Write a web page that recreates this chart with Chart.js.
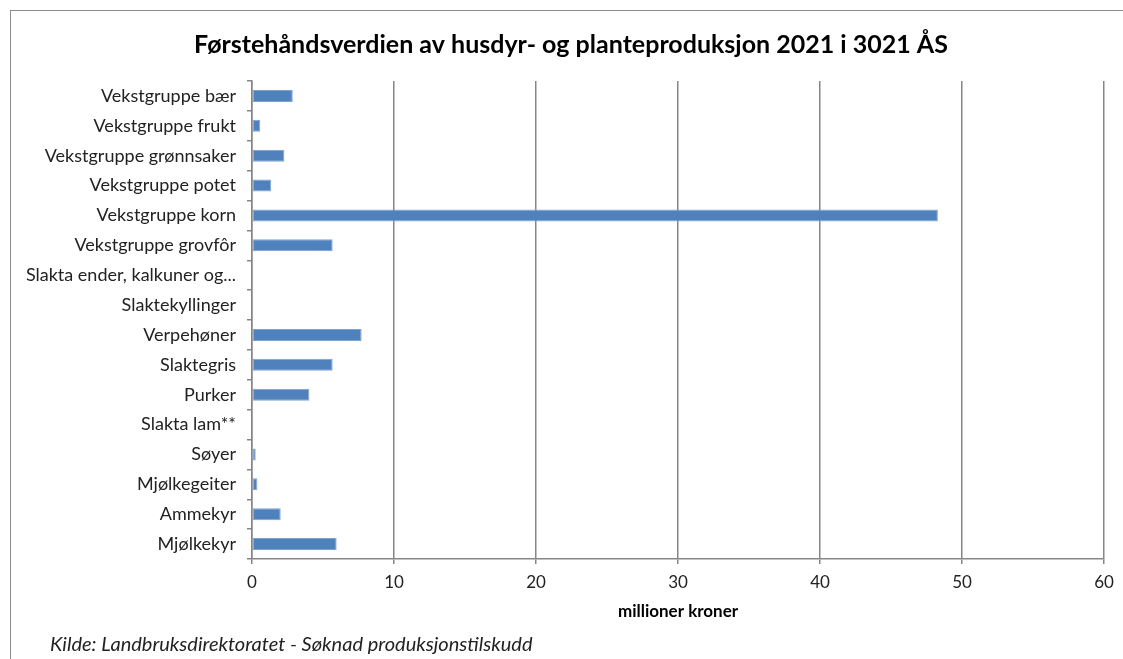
<!DOCTYPE html>
<html><head><meta charset="utf-8">
<script src="https://cdn.jsdelivr.net/npm/chart.js@4.4.1/dist/chart.umd.min.js"></script>
<style>
html,body{margin:0;padding:0;background:#fff;}
#wrap{position:relative;width:1123px;height:659px;overflow:hidden;}
#frame{position:absolute;left:10px;top:10px;width:1200px;height:700px;border:1.5px solid #8c8c8c;box-sizing:border-box;}
#c{position:absolute;left:0;top:0;}
#src{position:absolute;left:50px;top:631px;font-family:Lato,sans-serif;font-style:italic;font-size:20px;line-height:24px;color:#222;}
</style></head>
<body><div id="wrap"><div id="frame"></div><canvas id="c" width="1123" height="659"></canvas>
<div id="src">Kilde: Landbruksdirektoratet - Søknad produksjonstilskudd</div></div>
<script>
const categories = ["Vekstgruppe bær","Vekstgruppe frukt","Vekstgruppe grønnsaker","Vekstgruppe potet","Vekstgruppe korn","Vekstgruppe grovfôr","Slakta ender, kalkuner og...","Slaktekyllinger","Verpehøner","Slaktegris","Purker","Slakta lam**","Søyer","Mjølkegeiter","Ammekyr","Mjølkekyr"];
const values = [2.87, 0.58, 2.28, 1.36, 48.3, 5.68, 0, 0, 7.72, 5.68, 4.04, 0, 0.26, 0.38, 2.02, 5.96];
const xTicks = [0,10,20,30,40,50,60];
const titleText = "Førstehåndsverdien av husdyr- og planteproduksjon 2021 i 3021 ÅS";
const xTitle = "millioner kroner";

const gray = '#868686';
const shiftTitle = {
  id: 'shiftTitle',
  afterLayout(chart) { if (chart.titleBlock) { chart.titleBlock.left += 38; } }
};
new Chart(document.getElementById('c'), {
  type: 'bar',
  data: { labels: categories, datasets: [{ data: values, backgroundColor: '#4F81BD', borderColor: '#7fa3d0', borderWidth: 1, borderSkipped: false, barPercentage: 0.8, categoryPercentage: 0.5 }] },
  plugins: [shiftTitle],
  options: {
    indexAxis: 'y', responsive: false, animation: false,
    layout: { padding: { left: 0, right: 19, top: 0, bottom: 29 } },
    plugins: {
      legend: { display: false }, tooltip: { enabled: false },
      title: { display: true, text: titleText, color: '#000', font: { family: 'Lato, sans-serif', size: 25, weight: 'bold', lineHeight: 1.2 }, padding: { top: 30, bottom: 21 } }
    },
    scales: {
      x: {
        min: 0, max: 60,
        afterBuildTicks: s => { s.ticks = xTicks.map(v => ({ value: v })); },
        afterFit: s => { s.height = 71; },
        grid: { color: gray, lineWidth: 1.5, tickLength: 5, drawTicks: true },
        border: { color: gray, width: 1.5 },
        ticks: { color: '#222', font: { family: 'Lato, sans-serif', size: 17 }, padding: 8, maxRotation: 0 },
        title: { display: true, text: xTitle, color: '#000', font: { family: 'Lato, sans-serif', size: 17, weight: 'bold', lineHeight: 1.2 }, padding: { top: 0, bottom: 8 } }
      },
      y: {
        afterFit: s => { s.width = 252; },
        grid: { offset: true, drawOnChartArea: false, color: gray, lineWidth: 1.5, tickLength: 5 },
        border: { color: gray, width: 1.5 },
        ticks: { color: '#222', font: { family: 'Lato, sans-serif', size: 18 }, padding: 11, autoSkip: false }
      }
    }
  }
});
</script></body></html>
